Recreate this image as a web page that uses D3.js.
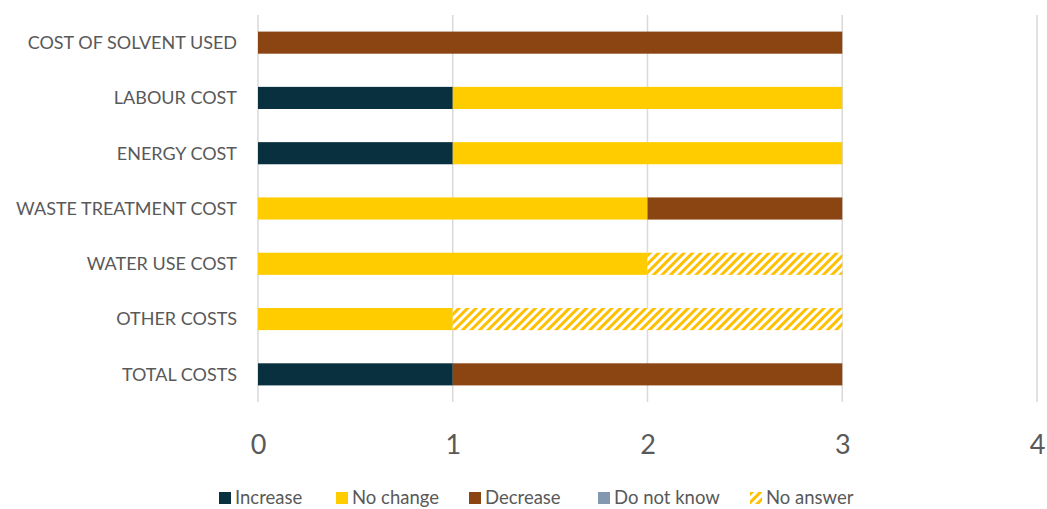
<!DOCTYPE html>
<html>
<head>
<meta charset="utf-8">
<script src="https://cdn.jsdelivr.net/npm/d3@7"></script>
<style>
  body { margin: 0; background: #fff; }
  svg { display: block; font-family: Lato, "Open Sans", sans-serif; }
</style>
</head>
<body>
<svg id="chart" width="1047" height="509"></svg>
<script>
/* chart data */
var categories = ['COST OF SOLVENT USED', 'LABOUR COST', 'ENERGY COST', 'WASTE TREATMENT COST',
                  'WATER USE COST', 'OTHER COSTS', 'TOTAL COSTS'];
var increase   = [0, 1, 1, 0, 0, 0, 1];
var noChange   = [0, 2, 2, 2, 2, 1, 0];
var decrease   = [3, 0, 0, 1, 0, 0, 2];
var doNotKnow  = [0, 0, 0, 0, 0, 0, 0];
var noAnswer   = [0, 0, 0, 0, 1, 2, 0];
var xTicks     = [0, 1, 2, 3, 4];

var seriesNames = ['Increase', 'No change', 'Decrease', 'Do not know', 'No answer'];
var seriesData  = [increase, noChange, decrease, doNotKnow, noAnswer];
var colors = ['#08303f', '#ffcc00', '#8b4513', '#8497b0', 'url(#hatch)'];

var svg = d3.select('#chart');
var margin = { left: 258, right: 10, top: 15, bottom: 107 };
var width = 1037 - margin.left,
    height = 509 - margin.top - margin.bottom;

// hatch for "No answer"
var defs = svg.append('defs');
var pat = defs.append('pattern')
  .attr('id', 'hatch')
  .attr('patternUnits', 'userSpaceOnUse')
  .attr('width', 6).attr('height', 6)
  .attr('patternTransform', 'rotate(45)');
pat.append('rect').attr('width', 6).attr('height', 6).attr('fill', '#fff');
pat.append('rect').attr('width', 3).attr('height', 6).attr('fill', '#ffc000');

var x = d3.scaleLinear().domain([0, 4]).range([0, width]);
var y = d3.scaleBand().domain(categories).range([0, height]).paddingInner(0.6).paddingOuter(0.3);

var g = svg.append('g').attr('transform', 'translate(' + margin.left + ',' + margin.top + ')');

// gridlines
g.selectAll('.grid').data(xTicks).enter().append('line')
  .attr('class', 'grid')
  .attr('x1', function(d) { return x(d); })
  .attr('x2', function(d) { return x(d); })
  .attr('y1', 0).attr('y2', height)
  .attr('stroke', '#d9d9d9').attr('stroke-width', 1.5);

// stack
var rows = categories.map(function(c, i) {
  var r = { cat: c };
  seriesNames.forEach(function(s, j) { r[s] = seriesData[j][i]; });
  return r;
});
var stacked = d3.stack().keys(seriesNames)(rows);

g.selectAll('.series').data(stacked).enter().append('g')
  .attr('class', 'series')
  .attr('fill', function(d, i) { return colors[i]; })
  .selectAll('rect').data(function(d) { return d; }).enter().append('rect')
  .attr('x', function(d) { return x(d[0]); })
  .attr('y', function(d) { return y(d.data.cat); })
  .attr('width', function(d) { return x(d[1]) - x(d[0]); })
  .attr('height', y.bandwidth());

// category labels
g.selectAll('.cat').data(categories).enter().append('text')
  .attr('class', 'cat')
  .attr('x', -21)
  .attr('y', function(d) { return y(d) + y.bandwidth() / 2; })
  .attr('dy', '0.35em')
  .attr('text-anchor', 'end')
  .attr('fill', '#595959')
  .style('font-size', '18px')
  .text(function(d) { return d; });

// x axis
var xAxis = d3.axisBottom(x).tickValues(xTicks).tickSize(0).tickPadding(0).tickFormat(d3.format('d'));
var ax = g.append('g').attr('transform', 'translate(0,' + height + ')').call(xAxis);
ax.select('.domain').remove();
ax.selectAll('text')
  .attr('y', 42)
  .attr('dy', '0.36em')
  .attr('fill', '#595959')
  .style('font-size', '27px')
  .style('font-family', 'Lato, sans-serif');

// legend
var legendX = [219, 336, 469, 598, 750];
var legend = svg.append('g').attr('class', 'legend');
var items = legend.selectAll('g').data(seriesNames).enter().append('g')
  .attr('transform', function(d, i) { return 'translate(' + legendX[i] + ',492)'; });
items.append('rect').attr('width', 12).attr('height', 12)
  .attr('fill', function(d, i) { return colors[i]; });
items.append('text')
  .attr('x', 16).attr('y', 6).attr('dy', '0.33em')
  .attr('fill', '#595959')
  .style('font-size', '18.5px')
  .text(function(d) { return d; });
</script>
</body>
</html>
